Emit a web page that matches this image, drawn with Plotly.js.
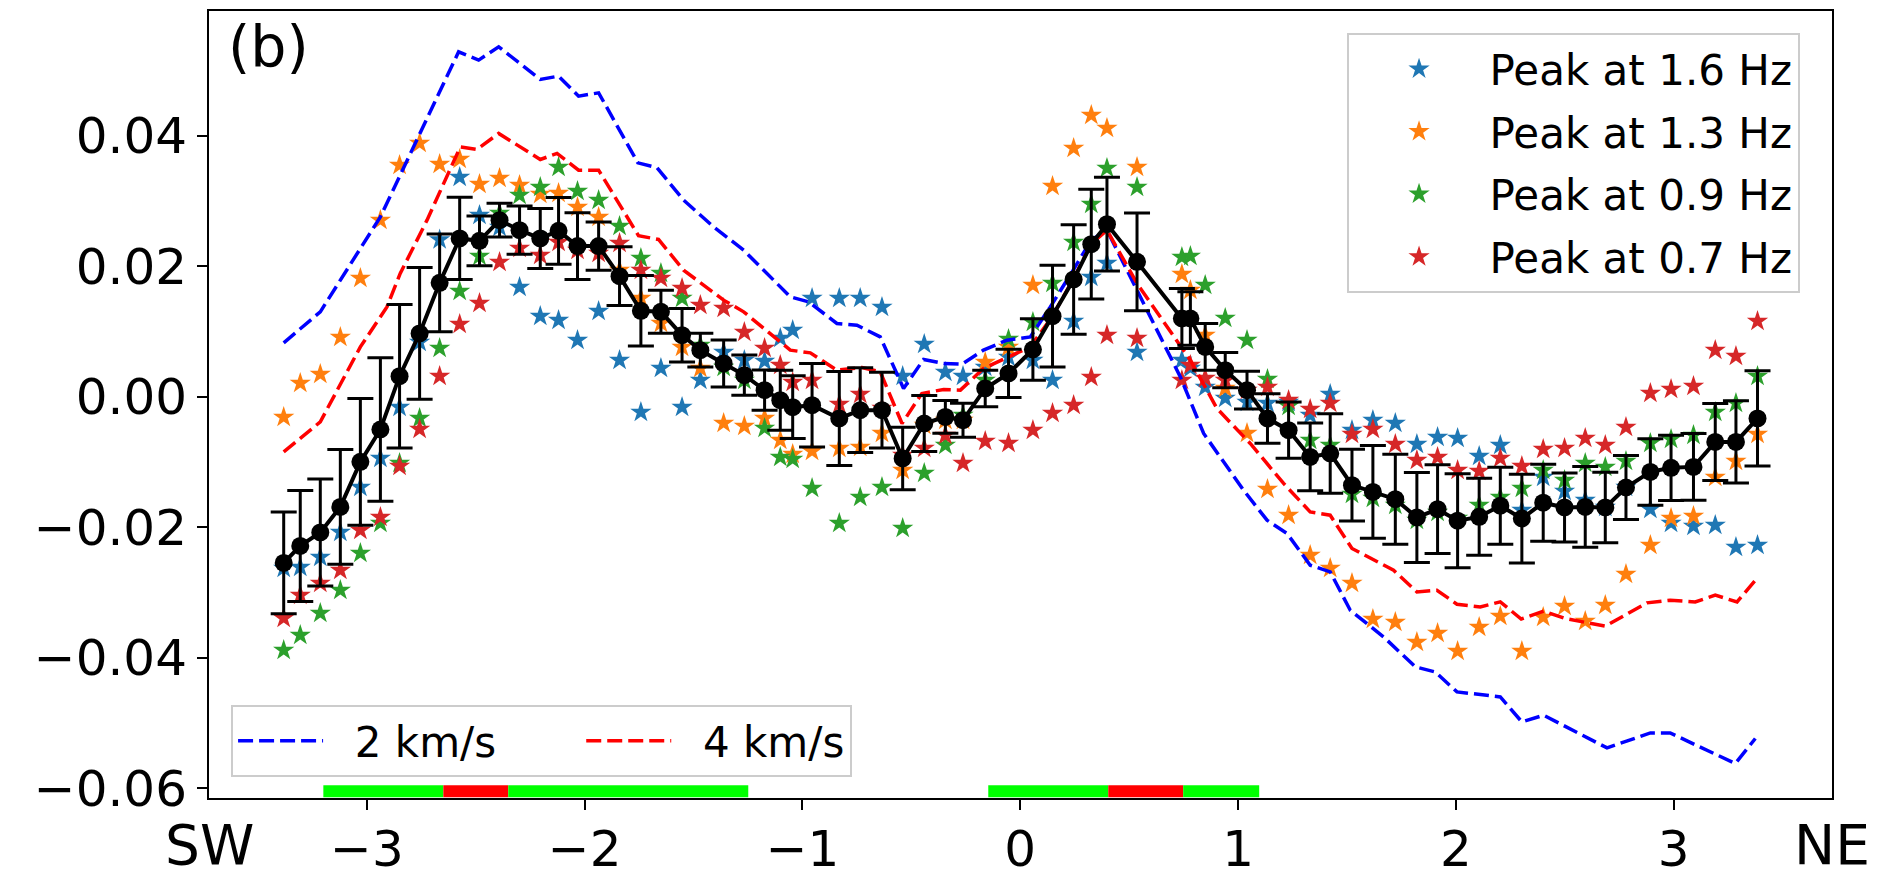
<!DOCTYPE html>
<html>
<head>
<meta charset="utf-8">
<script src="https://cdn.plot.ly/plotly-3.0.1.min.js"></script>
<style>html,body{margin:0;padding:0;background:#fff;}#chart{width:1878px;height:877px;}</style>
</head>
<body>
<div id="chart"></div>
<script>
// Station positions along the profile
const stations = [-3.382,-3.306,-3.214,-3.122,-3.030,-2.938,-2.850,-2.758,-2.666,-2.574,-2.483,-2.391,-2.299,-2.204,-2.120,-2.033,-1.936,-1.840,-1.742,-1.650,-1.553,-1.469,-1.362,-1.267,-1.174,-1.102,-1.045,-0.956,-0.831,-0.735,-0.635,-0.540,-0.441,-0.344,-0.263,-0.161,-0.054,0.058,0.148,0.245,0.326,0.398,0.536,0.742,0.781,0.849,0.941,1.041,1.135,1.232,1.331,1.423,1.523,1.619,1.722,1.821,1.916,2.008,2.107,2.204,2.303,2.401,2.499,2.594,2.686,2.781,2.893,2.988,3.091,3.191,3.286,3.385];

const peak16 = [-0.02628,-0.02613,-0.02460,-0.02077,-0.01387,-0.00942,-0.00161,0.00835,0.02406,0.03364,0.02782,0.02598,0.01678,0.01234,0.01172,0.00866,0.01310,0.00560,-0.00238,0.00437,-0.00161,0.00253,0.00682,0.00560,0.00544,0.00897,0.01019,0.01510,0.01510,0.01510,0.01372,0.00314,0.00805,0.00375,0.00314,0.00452,0.00605,0.00560,0.00253,0.01157,0.01831,0.02046,0.00682,0.00560,0.00437,0.00146,-0.00023,-0.00084,-0.00100,-0.00084,-0.00284,0.00038,-0.00513,-0.00360,-0.00406,-0.00728,-0.00621,-0.00636,-0.00912,-0.00743,-0.01739,-0.01234,-0.01448,-0.01586,-0.01694,-0.01387,-0.01724,-0.01939,-0.01985,-0.01969,-0.02307,-0.02276];

const peak13 = [-0.00314,0.00207,0.00345,0.00912,0.01816,0.02705,0.03548,0.03885,0.03563,0.03640,0.03257,0.03349,0.03241,0.03104,0.03119,0.02905,0.02751,0.01939,0.01510,0.01126,0.00759,0.00437,-0.00406,-0.00452,-0.00330,-0.00667,-0.00881,-0.00835,-0.00789,-0.00774,-0.00559,-0.01126,-0.00437,-0.00360,-0.00360,0.00529,0.00759,0.01709,0.03226,0.03808,0.04314,0.04115,0.03517,0.01877,0.01632,0.00943,0.00130,-0.00559,-0.01418,-0.01816,-0.02429,-0.02628,-0.02858,-0.03410,-0.03456,-0.03762,-0.03624,-0.03900,-0.03533,-0.03364,-0.03900,-0.03379,-0.03211,-0.03441,-0.03195,-0.02720,-0.02276,-0.01862,-0.01831,-0.01234,-0.00989,-0.00575];

const peak09 = [-0.03885,-0.03655,-0.03318,-0.02966,-0.02399,-0.01939,-0.01019,-0.00330,0.00743,0.01617,0.02153,0.02812,0.03088,0.03211,0.03517,0.03150,0.03011,0.02613,0.02123,0.01893,0.01510,0.00789,0.00452,0.00253,-0.00483,-0.00927,-0.00958,-0.01402,-0.01939,-0.01540,-0.01387,-0.02015,-0.01172,-0.00743,-0.00284,0.00253,0.00881,0.01142,0.01739,0.02368,0.02950,0.03502,0.03211,0.02138,0.02153,0.01709,0.01203,0.00866,0.00268,-0.00146,-0.00667,-0.00743,-0.01494,-0.01555,-0.01663,-0.01893,-0.01770,-0.01862,-0.01663,-0.01540,-0.01402,-0.01126,-0.01280,-0.01019,-0.01080,-0.00989,-0.00713,-0.00651,-0.00590,-0.00238,-0.00100,0.00314];

const peak07 = [-0.03395,-0.03042,-0.02858,-0.02659,-0.02046,-0.01847,-0.01065,-0.00498,0.00314,0.01111,0.01433,0.02061,0.02276,0.02169,0.02368,0.02245,0.02199,0.02353,0.01939,0.01816,0.01663,0.01402,0.01356,0.00989,0.00743,0.00483,0.00222,0.00253,-0.00115,0.00038,-0.00176,-0.00897,-0.00789,-0.00590,-0.01019,-0.00682,-0.00713,-0.00513,-0.00253,-0.00130,0.00299,0.00943,0.00897,0.00253,0.00483,0.00284,0.00253,0.00100,0.00146,-0.00054,-0.00192,-0.00100,-0.00575,-0.00498,-0.00728,-0.00973,-0.00927,-0.01126,-0.01142,-0.00943,-0.01065,-0.00805,-0.00789,-0.00636,-0.00743,-0.00467,0.00054,0.00115,0.00161,0.00713,0.00621,0.01157];

const meanValue = [-0.02547,-0.02287,-0.02081,-0.01689,-0.00999,-0.00503,0.00314,0.00969,0.01744,0.02425,0.02388,0.02705,0.02552,0.02425,0.02541,0.02307,0.02307,0.01847,0.01315,0.01300,0.00943,0.00713,0.00509,0.00330,0.00100,-0.00054,-0.00161,-0.00130,-0.00334,-0.00207,-0.00207,-0.00947,-0.00411,-0.00310,-0.00360,0.00126,0.00356,0.00723,0.01234,0.01796,0.02337,0.02644,0.02066,0.01198,0.01198,0.00763,0.00406,0.00100,-0.00334,-0.00513,-0.00923,-0.00871,-0.01356,-0.01459,-0.01571,-0.01851,-0.01724,-0.01900,-0.01842,-0.01671,-0.01867,-0.01625,-0.01698,-0.01689,-0.01698,-0.01392,-0.01153,-0.01091,-0.01076,-0.00693,-0.00693,-0.00334];

const meanError = [0.0078,0.0085,0.0082,0.0088,0.0097,0.0110,0.0110,0.0101,0.0075,0.0063,0.0038,0.0026,0.0037,0.0046,0.0051,0.0051,0.0037,0.0045,0.0054,0.0033,0.0041,0.0026,0.0036,0.0031,0.0031,0.0046,0.0048,0.0064,0.0072,0.0065,0.0058,0.0048,0.0043,0.0025,0.0026,0.0028,0.0037,0.0047,0.0078,0.0084,0.0084,0.0072,0.0075,0.0046,0.0041,0.0036,0.0027,0.0029,0.0038,0.0043,0.0052,0.0061,0.0055,0.0071,0.0069,0.0069,0.0068,0.0072,0.0059,0.0059,0.0068,0.0059,0.0053,0.0062,0.0054,0.0049,0.0051,0.0050,0.0051,0.0059,0.0063,0.0073];

const model2kmX = [-3.382,-3.214,-2.938,-2.579,-2.487,-2.395,-2.204,-2.120,-2.028,-1.936,-1.756,-1.668,-1.546,-1.408,-1.270,-1.056,-0.972,-0.842,-0.750,-0.643,-0.536,-0.444,-0.352,-0.268,-0.169,-0.061,0.046,0.138,0.243,0.326,0.398,0.536,0.735,0.842,1.025,1.133,1.225,1.331,1.423,1.515,1.668,1.814,1.905,2.005,2.204,2.303,2.403,2.694,2.893,2.984,3.283,3.375];
const model2kmY = [0.00825,0.01300,0.02756,0.05284,0.05157,0.05361,0.04861,0.04912,0.04605,0.04656,0.03583,0.03510,0.03012,0.02602,0.02245,0.01530,0.01453,0.01122,0.01096,0.00916,0.00126,0.00570,0.00509,0.00498,0.00713,0.00866,0.00916,0.01376,0.01940,0.02400,0.02552,0.01632,0.00303,-0.00564,-0.01433,-0.01893,-0.02097,-0.02582,-0.02685,-0.03272,-0.03681,-0.04141,-0.04218,-0.04524,-0.04601,-0.04984,-0.04881,-0.05382,-0.05153,-0.05153,-0.05622,-0.05238];

const model4kmX = [-3.382,-3.214,-3.030,-2.908,-2.847,-2.724,-2.571,-2.494,-2.395,-2.204,-2.127,-2.028,-1.936,-1.753,-1.661,-1.546,-1.362,-1.270,-1.056,-0.964,-0.842,-0.727,-0.643,-0.543,-0.452,-0.352,-0.275,-0.169,-0.054,0.046,0.147,0.243,0.326,0.398,0.536,0.781,0.903,1.056,1.209,1.331,1.423,1.523,1.714,1.821,1.913,2.005,2.112,2.204,2.300,2.403,2.502,2.686,2.877,2.984,3.099,3.191,3.291,3.382];
const model4kmY = [-0.00846,-0.00386,0.00763,0.01376,0.01888,0.02705,0.03828,0.03789,0.04034,0.03635,0.03727,0.03471,0.03471,0.02467,0.02409,0.01939,0.01479,0.01300,0.00713,0.00671,0.00406,0.00448,0.00380,-0.00411,0.00049,0.00110,0.00100,0.00432,0.00610,0.00763,0.01230,0.01800,0.02340,0.02552,0.01735,0.00559,-0.00181,-0.00717,-0.01330,-0.01766,-0.01816,-0.02326,-0.02659,-0.02992,-0.02966,-0.03180,-0.03222,-0.03145,-0.03407,-0.03287,-0.03399,-0.03517,-0.03160,-0.03119,-0.03145,-0.03042,-0.03145,-0.02786];

// Coloured strip at the bottom of the profile
const stripStart = [-3.200,-2.649,-2.351,-0.147,0.404,0.748];
const stripEnd   = [-2.649,-2.351,-1.249,0.404,0.748,1.097];
const stripColor = ['#00ff00','#ff0000','#00ff00','#00ff00','#ff0000','#00ff00'];
const stripBottom = -0.06138, stripTop = -0.05954;

const xTicks = [-3,-2,-1,0,1,2,3];
const xTickText = ['\u22123','\u22122','\u22121','0','1','2','3'];
const yTicks = [-0.06,-0.04,-0.02,0.00,0.02,0.04];
const yTickText = ['\u22120.06','\u22120.04','\u22120.02','0.00','0.02','0.04'];

const FONT = 'DejaVu Sans, Liberation Sans, sans-serif';
const NB = '\u00a0';

function starTrace(y, name, color, grp) {
  return {x: stations, y: y, name: name, type: 'scatter', mode: 'markers',
    marker: {symbol: 'star', size: 16, color: color, line: {width: 0}},
    legend: 'legend', legendgroup: grp, hoverinfo: 'skip'};
}

const traces = [
  starTrace(peak16, 'Peak at 1.6 Hz', '#1f77b4', 'g1'),
  starTrace(peak13, 'Peak at 1.3 Hz', '#ff7f0e', 'g2'),
  starTrace(peak09, 'Peak at 0.9 Hz', '#2ca02c', 'g3'),
  starTrace(peak07, 'Peak at 0.7 Hz', '#d62728', 'g4'),
  {x: model2kmX, y: model2kmY, name: NB + NB + '2 km/s' + NB.repeat(6), type: 'scatter', mode: 'lines',
   line: {color: '#0000ff', width: 3.5, dash: '15px,6px'}, legend: 'legend2'},
  {x: model4kmX, y: model4kmY, name: NB + NB + '4 km/s', type: 'scatter', mode: 'lines',
   line: {color: '#ff0000', width: 3.5, dash: '15px,6px'}, legend: 'legend2'},
  {x: stations, y: meanValue, type: 'scatter', mode: 'lines+markers', showlegend: false,
   line: {color: '#000000', width: 4}, marker: {color: '#000000', size: 18},
   error_y: {type: 'data', array: meanError, visible: true, color: '#000000', thickness: 3, width: 13}}
];

const shapes = stripStart.map((s, i) => ({type: 'rect', xref: 'x', yref: 'y',
  x0: s, x1: stripEnd[i], y0: stripBottom, y1: stripTop,
  fillcolor: stripColor[i], line: {width: 0}, layer: 'above'}));

const axisCommon = {showgrid: false, zeroline: false, showline: true, linecolor: '#000000', linewidth: 2,
  mirror: true, ticks: 'outside', ticklen: 10, tickwidth: 2, tickcolor: '#000000',
  tickfont: {family: FONT, size: 50, color: '#000000'}};

const layout = {
  width: 1878, height: 877,
  margin: {l: 209, r: 46, t: 11, b: 79},
  paper_bgcolor: '#ffffff', plot_bgcolor: '#ffffff',
  font: {family: FONT, color: '#000000'},
  xaxis: Object.assign({}, axisCommon, {range: [-3.725, 3.727], tickvals: xTicks, ticktext: xTickText,
    ticklabelstandoff: -4}),
  yaxis: Object.assign({}, axisCommon, {range: [-0.0615, 0.0591], tickvals: yTicks, ticktext: yTickText}),
  shapes: shapes,
  legend: {x: 0.980, xanchor: 'right', y: 0.972, yanchor: 'top', bgcolor: 'rgba(255,255,255,0.8)',
    bordercolor: '#cccccc', borderwidth: 2, font: {family: FONT, size: 42, color: '#000000'},
    itemwidth: 131, tracegroupgap: 5},
  legend2: {x: 0.0136, xanchor: 'left', y: 0.0267, yanchor: 'bottom', orientation: 'h',
    bgcolor: 'rgba(255,255,255,0.8)', bordercolor: '#cccccc', borderwidth: 2,
    font: {family: FONT, size: 42, color: '#000000'}, itemwidth: 85},
  annotations: [
    {text: '(b)', xref: 'paper', yref: 'paper', x: 0.0105, y: 0.9555, xanchor: 'left', yanchor: 'middle',
     showarrow: false, font: {family: FONT, size: 57, color: '#000000'}},
    {text: 'SW', xref: 'paper', yref: 'paper', x: 0.0006, y: -0.0600, xanchor: 'center', yanchor: 'middle',
     showarrow: false, font: {family: FONT, size: 55, color: '#000000'}},
    {text: 'NE', xref: 'paper', yref: 'paper', x: 0.9997, y: -0.0600, xanchor: 'center', yanchor: 'middle',
     showarrow: false, font: {family: FONT, size: 55, color: '#000000'}}
  ],
  showlegend: true
};

Plotly.newPlot('chart', traces, layout, {displayModeBar: false, staticPlot: true});
</script>
</body>
</html>
